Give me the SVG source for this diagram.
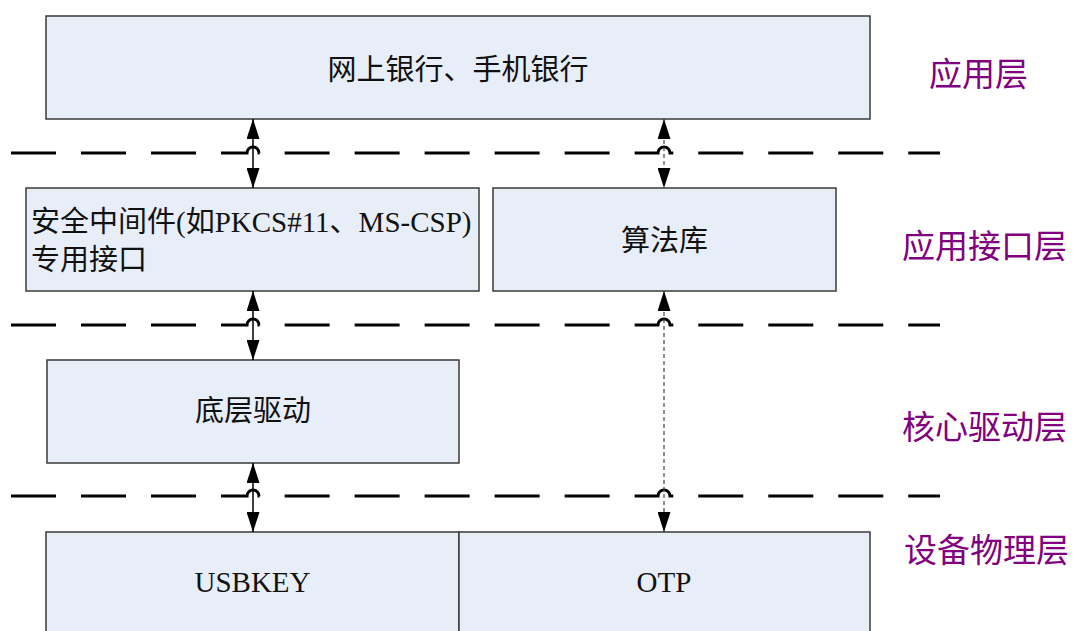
<svg xmlns="http://www.w3.org/2000/svg" width="1074" height="631" viewBox="0 0 1074 631">
<style>
.box{fill:#E8EEF7;stroke:#3a3a3a;stroke-width:1.5}
.t{font-family:"Liberation Serif","Noto Sans CJK SC",serif;font-size:29px;fill:#111}
.c{text-anchor:middle}
.layer{font-family:"Liberation Serif","Noto Sans CJK SC",serif;font-size:33px;fill:#800080}
.sep{fill:none;stroke:#000;stroke-width:3;stroke-dasharray:45 25}
.solid{fill:none;stroke:#000;stroke-width:1.5;marker-start:url(#arr);marker-end:url(#arr)}
.dash{fill:none;stroke:#444;stroke-width:1.2;stroke-dasharray:4 3;marker-start:url(#arr);marker-end:url(#arr)}
</style>
<defs>
<marker id="arr" markerUnits="userSpaceOnUse" markerWidth="20" markerHeight="13" refX="20" refY="6.5" orient="auto-start-reverse">
<path d="M0,0 L20,6.5 L0,13 z" fill="#000"/>
</marker>
</defs>
<rect width="1074" height="631" fill="#fff"/>
<g id="separators">
<path class="sep" d="M11,153 H247 A6,6 0 0 1 259,153 H658 A6,6 0 0 1 670,153 H940"/>
<path class="sep" d="M11,325 H247 A6,6 0 0 1 259,325 H658 A6,6 0 0 1 670,325 H940"/>
<path class="sep" d="M11,496 H247 A6,6 0 0 1 259,496 H658 A6,6 0 0 1 670,496 H940"/>
</g>
<g id="node-app">
<rect class="box" x="46" y="16" width="824" height="103"/>
<text class="t c" x="458" y="79.5">网上银行、手机银行</text>
</g>
<g id="node-middleware">
<rect class="box" x="26" y="188" width="453" height="103"/>
<text class="t" x="31" y="232">安全中间件(如PKCS#11、MS-CSP)</text>
<text class="t" x="31" y="269.5">专用接口</text>
</g>
<g id="node-algo">
<rect class="box" x="493" y="188" width="343" height="103"/>
<text class="t c" x="664.5" y="251">算法库</text>
</g>
<g id="node-driver">
<rect class="box" x="47" y="360" width="412" height="103"/>
<text class="t c" x="253" y="421">底层驱动</text>
</g>
<g id="node-usbkey">
<rect class="box" x="46" y="532" width="413" height="130"/>
<text class="t c" x="252.5" y="592">USBKEY</text>
</g>
<g id="node-otp">
<rect class="box" x="459" y="532" width="411" height="130"/>
<text class="t c" x="664" y="592">OTP</text>
</g>
<g id="connectors">
<line class="solid" x1="253" y1="119" x2="253" y2="188"/>
<line class="dash" x1="664" y1="119" x2="664" y2="188"/>
<line class="solid" x1="253" y1="291" x2="253" y2="360"/>
<line class="dash" x1="664" y1="291" x2="664" y2="532"/>
<line class="solid" x1="253" y1="463" x2="253" y2="532"/>
</g>
<g id="layer-labels">
<text class="layer" x="929" y="85.5">应用层</text>
<text class="layer" x="902" y="257.5">应用接口层</text>
<text class="layer" x="902" y="439">核心驱动层</text>
<text class="layer" x="904" y="562">设备物理层</text>
</g>
</svg>
